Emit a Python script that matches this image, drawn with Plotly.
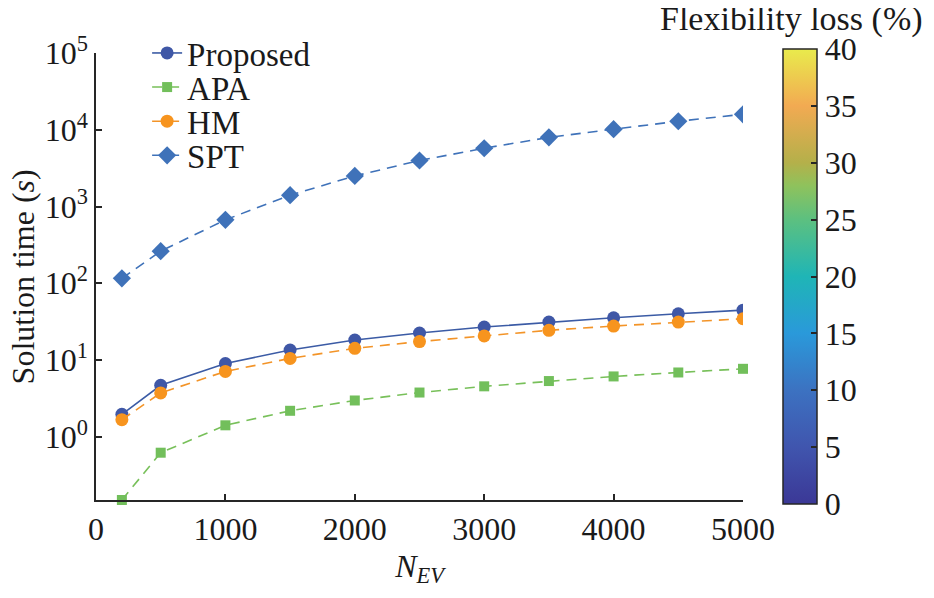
import numpy as np
import plotly.graph_objects as go

# number of EVs
n_ev = [200, 500, 1000, 1500, 2000, 2500, 3000, 3500, 4000, 4500, 5000]

# solution times (s)
t_proposed = [1.96, 4.68, 9.0, 13.5, 18.2, 22.5, 26.9, 31.2, 35.5, 40.0, 44.6]
t_apa = [0.15, 0.62, 1.41, 2.18, 2.97, 3.77, 4.54, 5.32, 6.11, 6.88, 7.68]
t_hm = [1.67, 3.72, 7.1, 10.5, 14.2, 17.4, 20.6, 24.4, 27.7, 31.2, 34.5]
t_spt = [116, 262, 670, 1406, 2500, 3975, 5740, 7960, 10180, 12900, 15900]

x_ticks = [0, 1000, 2000, 3000, 4000, 5000]
y_exps = [0, 1, 2, 3, 4, 5]
cbar_ticks = [0, 5, 10, 15, 20, 25, 30, 35, 40]

FONT = "Liberation Serif, Times New Roman, serif"
AXC = "#262626"
TXT = "#1a1a1a"

# colormap of the flexibility-loss bar (parula-like)
cmap = [
    [0.0, "#3b3896"],
    [0.125, "#4055ae"],
    [0.25, "#3c72c1"],
    [0.375, "#2a99da"],
    [0.5, "#1fb5b6"],
    [0.625, "#5cc080"],
    [0.7, "#8fc25c"],
    [0.75, "#b4b04a"],
    [0.875, "#f2aa52"],
    [1.0, "#e9eb4c"],
]

fig = go.Figure()

fig.add_trace(
    go.Scatter(
        x=n_ev, y=t_proposed, mode="lines+markers", name="Proposed",
        line=dict(color="#3b5ba5", width=1.6),
        marker=dict(symbol="circle", size=13, color="#3f57a6"),
        legend="legend",
    )
)
fig.add_trace(
    go.Scatter(
        x=n_ev, y=t_apa, mode="lines+markers", name="APA",
        line=dict(color="#78c05a", width=1.6, dash="10px,7px"),
        marker=dict(symbol="square", size=10, color="#72bf5b"),
        cliponaxis=False,
        legend="legend2",
    )
)
fig.add_trace(
    go.Scatter(
        x=n_ev, y=t_hm, mode="lines+markers", name="HM",
        line=dict(color="#f39428", width=1.6, dash="10px,7px"),
        marker=dict(symbol="circle", size=13, color="#f7941e"),
        legend="legend3",
    )
)
fig.add_trace(
    go.Scatter(
        x=n_ev, y=t_spt, mode="lines+markers", name="SPT",
        line=dict(color="#3f72b9", width=1.6, dash="10px,7px"),
        marker=dict(symbol="diamond", size=14, color="#3f72b9"),
        legend="legend4",
    )
)

# invisible trace only to carry the colorbar
fig.add_trace(
    go.Scatter(
        x=[None], y=[None], mode="markers", showlegend=False, hoverinfo="skip",
        marker=dict(
            color=[0], cmin=0, cmax=40, colorscale=cmap, showscale=True,
            colorbar=dict(
                x=1.062, xanchor="left", xref="paper",
                y=0.5, yanchor="middle",
                lenmode="pixels", len=455, thickness=34,
                outlinecolor=AXC, outlinewidth=1.5,
                ticks="inside", ticklen=6, tickwidth=1.5, tickcolor=AXC,
                tickvals=cbar_ticks,
                tickfont=dict(family=FONT, size=32, color=TXT),
                xpad=0, ypad=0,
            ),
        ),
    )
)

# one legend per entry so the rows can sit as tight as in the original
leg_common = dict(
    x=0.079, xanchor="left", yanchor="middle",
    bgcolor="rgba(0,0,0,0)", borderwidth=0,
    font=dict(family=FONT, size=33, color=TXT),
)
row = 34.5 / 452

# the page body adds an 8px margin all round, so the figure is shrunk to fit
fig.update_layout(
    width=918, height=582,
    margin=dict(l=88, r=183, t=45, b=85),
    paper_bgcolor="white", plot_bgcolor="white",
    font=dict(family=FONT, size=32, color=TXT),
    legend=dict(y=1 - 0 * row, **leg_common),
    legend2=dict(y=1 - 1 * row, **leg_common),
    legend3=dict(y=1 - 2 * row, **leg_common),
    legend4=dict(y=1 - 3 * row, **leg_common),
    xaxis=dict(
        range=[0, 5000], tickvals=x_ticks,
        showline=True, linecolor=AXC, linewidth=1.5,
        ticks="inside", ticklen=6, tickwidth=1.5, tickcolor=AXC,
        showgrid=False, zeroline=False,
        tickfont=dict(family=FONT, size=32, color=TXT),
        title=dict(text="<i>N</i><sub><i>EV</i></sub>", standoff=8,
                   font=dict(family=FONT, size=32, color=TXT)),
    ),
    yaxis=dict(
        type="log", range=[np.log10(0.15), 5],
        tickvals=[10.0 ** e for e in y_exps],
        ticktext=["10<sup>%d</sup>" % e for e in y_exps],
        showline=True, linecolor=AXC, linewidth=1.5,
        ticks="inside", ticklen=6, tickwidth=1.5, tickcolor=AXC,
        showgrid=False, zeroline=False,
        tickfont=dict(family=FONT, size=32, color=TXT),
    ),
)

# y-axis title as an annotation so it can sit closer to the page edge
fig.add_annotation(
    text="Solution time (<i>s</i>)", xref="paper", yref="paper",
    x=-0.113, xanchor="center", y=0.5, yanchor="middle", textangle=-90,
    showarrow=False, font=dict(family=FONT, size=32, color=TXT),
)

fig.add_annotation(
    text="Flexibility loss (%)", xref="paper", yref="paper",
    x=1.281, xanchor="right", y=1, yanchor="bottom", yshift=13,
    showarrow=False, font=dict(family=FONT, size=34, color=TXT),
)

fig.write_html("out.html")
